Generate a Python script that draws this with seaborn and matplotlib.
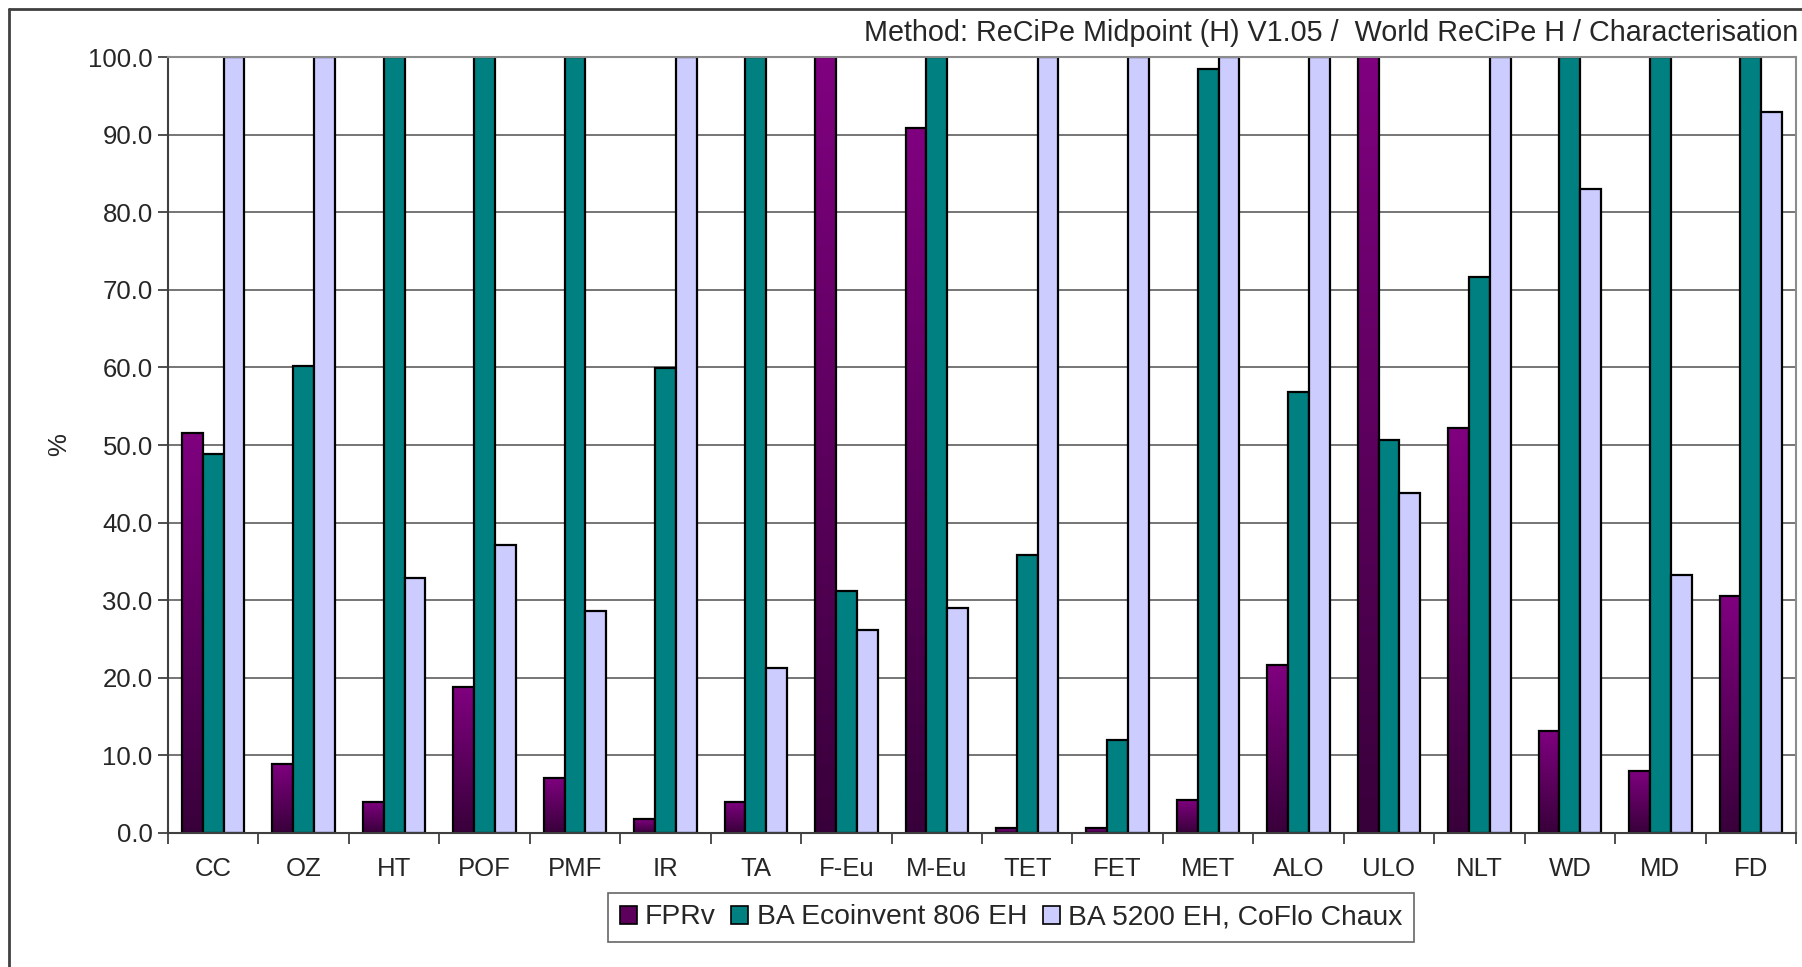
import matplotlib
matplotlib.use("Agg")
import matplotlib.pyplot as plt
from matplotlib.colors import LinearSegmentedColormap
from matplotlib.patches import Patch
from matplotlib.lines import Line2D
import numpy as np
import pandas as pd
import seaborn as sns

categories = ["CC", "OZ", "HT", "POF", "PMF", "IR", "TA", "F-Eu", "M-Eu", "TET",
              "FET", "MET", "ALO", "ULO", "NLT", "WD", "MD", "FD"]
series_names = ["FPRv", "BA Ecoinvent 806 EH", "BA 5200 EH, CoFlo Chaux"]
fprv = [51.6, 8.9, 4.0, 18.8, 7.1, 1.8, 4.0, 100.0, 90.8, 0.6,
        0.6, 4.3, 21.6, 100.0, 52.2, 13.2, 8.0, 30.6]
ba_eco = [48.8, 60.2, 100.0, 100.0, 100.0, 59.9, 100.0, 31.2, 100.0, 35.8,
          12.0, 98.5, 56.8, 50.7, 71.6, 100.0, 100.0, 100.0]
ba_5200 = [100.0, 100.0, 32.8, 37.1, 28.6, 100.0, 21.3, 26.2, 29.0, 100.0,
           100.0, 100.0, 100.0, 43.8, 100.0, 83.0, 33.3, 92.9]
yticks = [0, 10, 20, 30, 40, 50, 60, 70, 80, 90, 100]
title = "Method: ReCiPe Midpoint (H) V1.05 /  World ReCiPe H / Characterisation"

colors = ["#800080", "#008080", "#CCCCFF"]

df = pd.DataFrame({
    "cat": categories * 3,
    "series": [series_names[0]] * 18 + [series_names[1]] * 18 + [series_names[2]] * 18,
    "val": fprv + ba_eco + ba_5200,
})

sns.set_theme(style="white")
plt.rcParams["font.family"] = ["Liberation Sans", "DejaVu Sans"]

W, H = 1802, 967
fig = plt.figure(figsize=(W / 100, H / 100), dpi=100)
ax = fig.add_axes([168 / W, 1 - 833 / H, (1796 - 168) / W, (833 - 57) / H])

sns.barplot(data=df, x="cat", y="val", hue="series", order=categories,
            hue_order=series_names, palette=colors, saturation=1,
            width=0.69, edgecolor="black", linewidth=1.6, legend=False, ax=ax)

# gradient fill for FPRv bars
cmap = LinearSegmentedColormap.from_list("pg", ["#38003a", "#800080"])
grad = np.linspace(0, 1, 256).reshape(-1, 1)
for p in ax.containers[0]:
    x, w, h = p.get_x(), p.get_width(), p.get_height()
    p.set_facecolor("none")
    p.set_zorder(2)
    ax.imshow(grad, extent=[x, x + w, 0, h], origin="lower", aspect="auto",
              cmap=cmap, zorder=1.5, interpolation="bilinear")
for c in ax.containers[1:]:
    for p in c:
        p.set_zorder(2)

ax.set_xlim(-0.5, len(categories) - 0.5)
ax.set_ylim(0, 100)
ax.set_yticks(yticks)
ax.set_yticklabels([f"{v:.1f}" for v in yticks])
ax.set_xticks(np.arange(-0.5, len(categories)), labels=[""] * (len(categories) + 1))
ax.set_xticks(np.arange(len(categories)), labels=categories, minor=True)
ax.tick_params(axis="x", which="major", length=8, width=1.3, color="#404040", bottom=True)
ax.tick_params(axis="x", which="minor", length=0, pad=17, labelsize=18.5, bottom=True)
ax.tick_params(axis="y", length=7, width=1.3, color="#404040", pad=4, labelsize=18.5, left=True)
ax.set_xlabel("")
ax.set_ylabel("%", fontsize=18.5, labelpad=12)

ax.set_axisbelow(True)
ax.yaxis.grid(True, color="#6a6a6a", linewidth=1.3, zorder=0.5)
ax.xaxis.grid(False)
ax.spines["left"].set_color("#404040")
ax.spines["bottom"].set_color("#404040")
ax.spines["left"].set_linewidth(1.5)
ax.spines["bottom"].set_linewidth(1.5)
for s in ["top", "right"]:
    ax.spines[s].set_color("#8c8c8c")
    ax.spines[s].set_linewidth(1.5)
    ax.spines[s].set_visible(True)

fig.text(1798 / W, 1 - 33 / H, title, ha="right", va="center", fontsize=20.7)

handles = [Patch(facecolor="#5c005c", edgecolor="black", linewidth=1.2),
           Patch(facecolor=colors[1], edgecolor="black", linewidth=1.2),
           Patch(facecolor=colors[2], edgecolor="black", linewidth=1.2)]
leg = fig.legend(handles, series_names, loc="center", bbox_to_anchor=(1011 / W, 1 - 917.5 / H),
                 ncol=3, fontsize=20.3, frameon=True, fancybox=False, handlelength=0.6,
                 handleheight=0.6, handletextpad=0.3, columnspacing=0.55, borderpad=0.4)
leg.get_frame().set_edgecolor("#404040")
leg.get_frame().set_linewidth(1.2)

fig.add_artist(Line2D([9 / W, 9 / W], [0, 1 - 9 / H], transform=fig.transFigure,
                      color="#404040", linewidth=2))
fig.add_artist(Line2D([9 / W, 1], [1 - 9 / H, 1 - 9 / H], transform=fig.transFigure,
                      color="#404040", linewidth=2))

fig.savefig("out.png", dpi=100, facecolor="white")
